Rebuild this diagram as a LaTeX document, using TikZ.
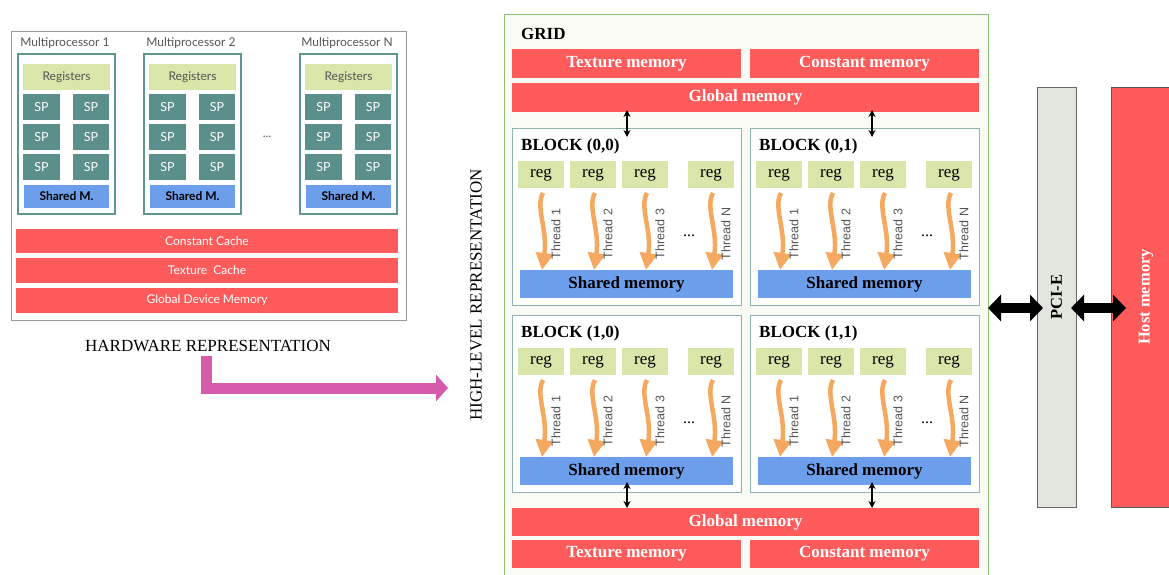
\documentclass[tikz,border=0pt]{standalone}
\usepackage{fontspec}
\setmainfont{Liberation Serif}
\newfontfamily\hwfont{Lato}
\newfontfamily\thfont{Liberation Sans}
\usetikzlibrary{arrows.meta}
\definecolor{memred}{HTML}{FF5B5B}
\definecolor{spteal}{HTML}{5A8F8B}
\definecolor{reggreen}{HTML}{D8E6A9}
\definecolor{shblue}{HTML}{6D9EEB}
\definecolor{mpborder}{HTML}{5F9591}
\definecolor{blkborder}{HTML}{8DB4AF}
\definecolor{gridborder}{HTML}{8CBE6E}
\definecolor{gridfill}{HTML}{F8FAF3}
\definecolor{pinkarrow}{HTML}{D65BAA}
\definecolor{thorange}{HTML}{F5A85F}
\definecolor{pcifill}{HTML}{E3E5DF}
\definecolor{hwgray}{HTML}{9A9A9A}
\definecolor{txtgray}{HTML}{555555}
\newcommand\bx[7]{\node[#6,anchor=north west,inner sep=0pt,outer sep=0pt,minimum width={(#4)*1pt-(#2)*1pt},minimum height={(#5)*1pt-(#3)*1pt}] (#1) at (#2,#3) {#7};}
\tikzset{
  hwtext/.style={font=\hwfont\fontsize{12}{14}\selectfont},
  mplbl/.style={hwtext,text=txtgray},
  mpbox/.style={draw=mpborder,fill=white,line width=1.2pt},
  regbox/.style={fill=reggreen,hwtext,text=txtgray},
  spbox/.style={fill=spteal,hwtext,text=white,font=\hwfont\fontsize{12.5}{14}\selectfont},
  shmbox/.style={fill=shblue,hwtext,font=\hwfont\bfseries\fontsize{12}{14}\selectfont},
  cachebox/.style={fill=memred,text=white,hwtext},
  memtext/.style={font=\bfseries\fontsize{17}{20}\selectfont},
  gmem/.style={fill=memred,text=white,memtext},
  blkbox/.style={draw=blkborder,fill=white,line width=0.8pt},
  blktitle/.style={font=\bfseries\fontsize{17}{20}\selectfont,inner sep=0pt},
  gregbox/.style={fill=reggreen,font=\fontsize{17}{20}\selectfont},
  gshbox/.style={fill=shblue,memtext},
  thread/.style={draw=thorange,line width=4.5pt,-{Triangle[length=17pt 0 0,width=17pt 0 0]}},
  thlbl/.style={font=\thfont\fontsize{12.5}{14}\selectfont,text=txtgray,inner sep=0pt},
  smallarr/.style={line width=1.4pt,{Stealth[length=7pt 0 0,width=7pt 0 0]}-{Stealth[length=7pt 0 0,width=7pt 0 0]}},
  bigarr/.style={line width=10pt,{Triangle[length=13pt 0 0,width=26pt 0 0]}-{Triangle[length=13pt 0 0,width=26pt 0 0]}},
}
\begin{document}
\begin{tikzpicture}[x=1pt,y=-1pt]
\clip (0,0) rectangle (1169,574);
\fill[white] (0,0) rectangle (1169,574);
% ---------------- Hardware representation ----------------
\bx{hw}{11}{31}{406}{320}{draw=hwgray,fill=white,line width=1pt}{}
\foreach \i/\x in {1/18,2/144,N/300}{
  \node[mplbl] (mplbl\i) at (\x+47,43) {Multiprocessor \i};
  \bx{mp\i}{\x}{54}{\x+97}{214}{mpbox}{}
  \bx{reg\i}{\x+5}{64}{\x+92}{90}{regbox}{Registers}
  \foreach \r/\y in {1/94,2/124,3/154}{
    \bx{sp\i-a\r}{\x+5}{\y}{\x+42}{\y+26}{spbox}{SP}
    \bx{sp\i-b\r}{\x+55}{\y}{\x+91}{\y+26}{spbox}{SP}
  }
  \bx{shm\i}{\x+6}{185}{\x+91}{208}{shmbox}{Shared M.}
}
\node[hwtext,text=txtgray] (hwdots) at (267,137) {...};
\bx{ccache}{16}{229}{398}{253}{cachebox}{Constant Cache}
\bx{tcache}{16}{258}{398}{283}{cachebox}{Texture~ Cache}
\bx{gdm}{16}{288}{398}{313}{cachebox}{Global Device Memory}
\node[font=\fontsize{17}{20}\selectfont] (hwlabel) at (208,346) {HARDWARE REPRESENTATION};
% ---------------- arrow between representations ----------------
\coordinate (pa) at (206,356);
\coordinate (pb) at (448,388);
\draw[pinkarrow,line width=11pt,-{Triangle[length=12pt 0 0,width=26pt 0 0]}] (pa) |- (pb);
\node[rotate=90,font=\fontsize{17}{20}\selectfont] (hllabel) at (476,295) {HIGH-LEVEL REPRESENTATION};
% ---------------- Grid ----------------
\bx{grid}{504}{14}{988}{620}{draw=gridborder,fill=gridfill,line width=1pt}{}
\node[blktitle,anchor=west] (gridlbl) at (521,34) {GRID};
\bx{texTop}{512}{49}{741}{78}{gmem}{Texture memory}
\bx{conTop}{750}{49}{979}{78}{gmem}{Constant memory}
\bx{gmTop}{512}{83}{979}{112}{gmem}{Global memory}
\bx{gmBot}{512}{508}{979}{536}{gmem}{Global memory}
\bx{texBot}{512}{540}{741}{568}{gmem}{Texture memory}
\bx{conBot}{750}{540}{979}{568}{gmem}{Constant memory}
\foreach \b/\X/\Y/\t in {00/512/128/{(0,0)},01/750/128/{(0,1)},10/512/315/{(1,0)},11/750/315/{(1,1)}}{
  \bx{blk\b}{\X}{\Y}{\X+229}{\Y+177}{blkbox}{}
  \node[blktitle,anchor=west] (title\b) at (\X+9,\Y+18) {BLOCK \t};
  \bx{sh\b}{\X+8}{\Y+142}{\X+221}{\Y+170}{gshbox}{Shared memory}
  \foreach \k/\o in {1/6,2/58,3/110,N/176}{
    \bx{reg\b-\k}{\X+\o}{\Y+33}{\X+\o+46}{\Y+60}{gregbox}{reg}
    \draw[thread] ([xshift=2pt,yshift=-5pt]reg\b-\k.south) .. controls +(-8,14) and +(6,-40) .. ([xshift=1pt]sh\b.north -| reg\b-\k.south);
    \node[thlbl,rotate=90] (th\b-\k) at (\X+\o+38,\Y+106) {Thread \k};
  }
  \node[font=\fontsize{16}{18}\selectfont] (dots\b) at (\X+177,\Y+108) {...};
}
\coordinate (ta) at (627,137);
\coordinate (tb) at (872,137);
\draw[smallarr] ([yshift=2pt]gmTop.south -| ta) -- (ta);
\draw[smallarr] ([yshift=2pt]gmTop.south -| tb) -- (tb);
\coordinate (ba) at (627,482);
\coordinate (bb) at (872,482);
\draw[smallarr] (ba) -- (gmBot.north -| ba);
\draw[smallarr] (bb) -- (gmBot.north -| bb);
% ---------------- PCI-E and host ----------------
\bx{pcie}{1037}{87}{1076}{507}{draw=gray!80!black,fill=pcifill,line width=0.8pt}{}
\node[rotate=90,font=\bfseries\fontsize{16.5}{18}\selectfont] (pcilbl) at (pcie.center) {PCI-E};
\bx{host}{1111}{87}{1181}{507}{draw=black!65,fill=memred,line width=0.8pt}{}
\node[rotate=90,text=white,font=\bfseries\fontsize{16.5}{18}\selectfont] (hostlbl) at (host.center) {Host memory};
\coordinate (p1) at (988,308);
\coordinate (p2) at (1043,308);
\coordinate (p3) at (1071,308);
\coordinate (p4) at (1126,308);
\draw[bigarr] (grid.east |- p1) -- (p2);
\draw[bigarr] (p3) -- (p4);
\end{tikzpicture}
\end{document}
